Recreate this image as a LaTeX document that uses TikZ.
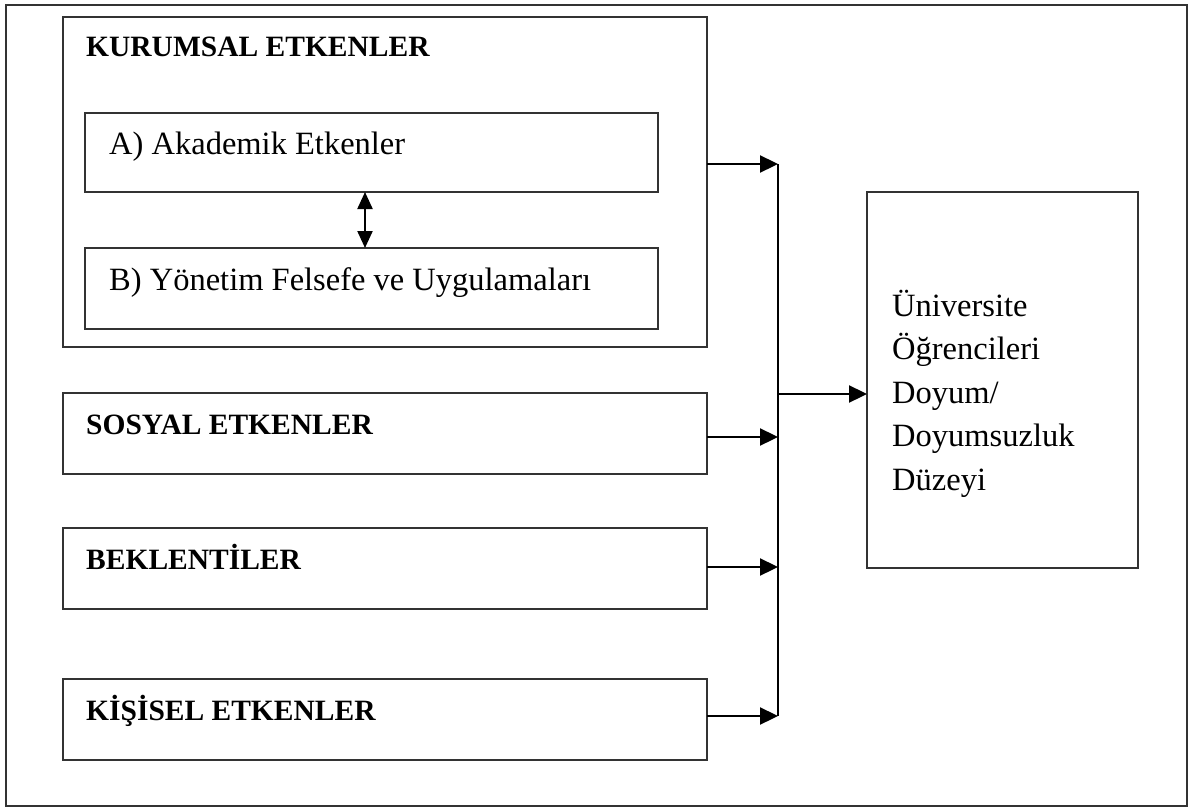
\documentclass[tikz,border=0pt]{standalone}
\usepackage{fontspec}
\setmainfont{Liberation Serif}
\usetikzlibrary{arrows.meta}
\begin{document}
\begin{tikzpicture}[x=1pt,y=-1pt,
  boxst/.style={draw=black!80,line width=1.5pt,rectangle,inner sep=0pt,outer sep=0pt},
  headst/.style={anchor=base west,inner sep=0pt,font=\fontsize{29.5}{36}\selectfont\bfseries},
  txtst/.style={anchor=base west,inner sep=0pt,font=\fontsize{32.5}{40}\selectfont},
  arr/.style={line width=2.3pt,-{Triangle[length=18pt,width=17pt]}},
  dblarr/.style={line width=2.2pt,{Triangle[length=17pt,width=15pt]}-{Triangle[length=17pt,width=15pt]}},
  busst/.style={line width=1.7pt}]
\useasboundingbox (0,0) rectangle (1192,808);
% outer frame
\node[boxst,minimum width=1181pt,minimum height=801pt] (frame) at (596.5,405.5) {};
% boxes
\node[boxst,minimum width=644pt,minimum height=330pt] (kur) at (385,182) {};
\node[boxst,minimum width=573pt,minimum height=79pt] (akd) at (371.5,152.5) {};
\node[boxst,minimum width=573pt,minimum height=81pt] (yon) at (371.5,288.5) {};
\node[boxst,minimum width=644pt,minimum height=81pt] (sos) at (385,433.5) {};
\node[boxst,minimum width=644pt,minimum height=81pt] (bek) at (385,568.5) {};
\node[boxst,minimum width=644pt,minimum height=81pt] (kis) at (385,719.5) {};
\node[boxst,minimum width=271pt,minimum height=376pt] (res) at (1002.5,380) {};
% texts
\node[headst] (tkur) at (86,57) {KURUMSAL ETKENLER};
\node[txtst] (takd) at (109,154) {A) Akademik Etkenler};
\node[txtst] (tyon) at (109,290) {B) Yönetim Felsefe ve Uygulamaları};
\node[headst] (tsos) at (86,434) {SOSYAL ETKENLER};
\node[headst] (tbek) at (86,569) {BEKLENTİLER};
\node[headst] (tkis) at (86,720) {KİŞİSEL ETKENLER};
\node[anchor=north west,inner sep=0pt,align=left,font=\fontsize{32.5}{43.6}\selectfont] (tres) at (892,289.5)
  {Üniversite\\Öğrencileri\\Doyum/\\Doyumsuzluk\\Düzeyi};
% bus coordinates
\coordinate (b1) at (778,164);
\coordinate (b2) at (778,437);
\coordinate (b3) at (778,567);
\coordinate (b4) at (778,716);
\coordinate (bm) at (778,394);
% connectors
\draw[busst] (b1) -- (b4);
\draw[arr] (b1 -| kur.east) -- (b1);
\draw[arr] (b2 -| sos.east) -- (b2);
\draw[arr] (b3 -| bek.east) -- (b3);
\draw[arr] (b4 -| kis.east) -- (b4);
\draw[arr] (bm) -- (bm -| res.west);
\draw[dblarr] (akd.south -| 365,0) -- (yon.north -| 365,0);
\end{tikzpicture}
\end{document}
